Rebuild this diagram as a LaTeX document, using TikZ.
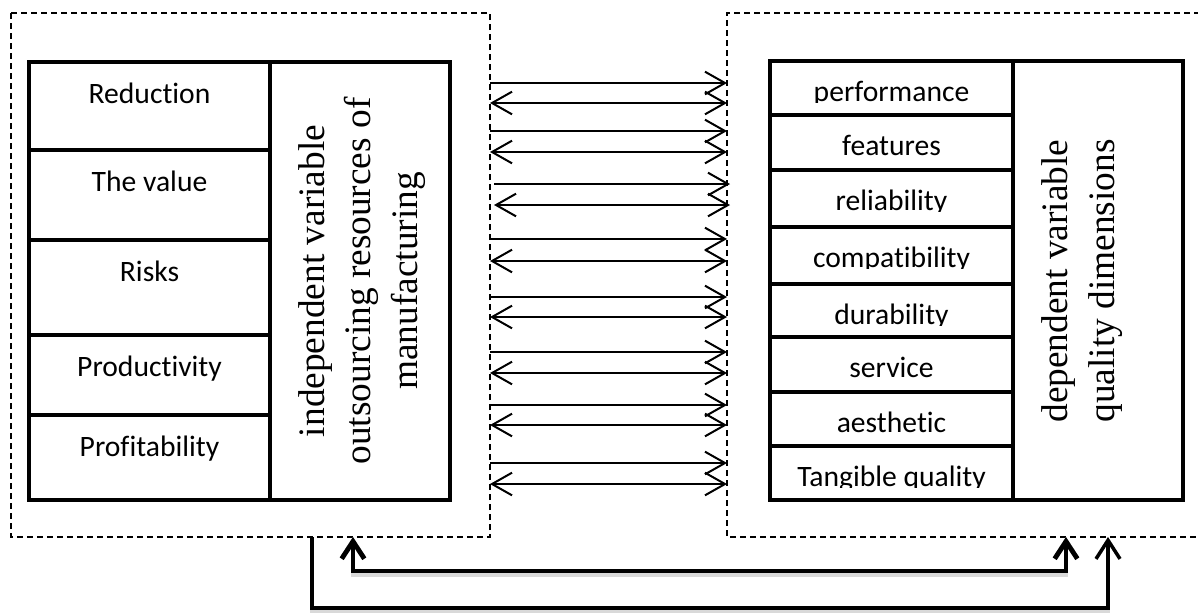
\documentclass[tikz,border=0pt]{standalone}
\usepackage{fontspec}
\setmainfont{Liberation Serif}
\newfontfamily\cellfont{Carlito}[Ligatures=NoCommon]
\usetikzlibrary{arrows.meta}

\tikzset{every picture/.style={line width=0.75pt}}
\tikzset{
  dashbox/.style={line width=1.1pt, dash pattern=on 4.5pt off 3pt},
  cellbox/.style={line width=3.6pt, line join=miter},
  celltext/.style={anchor=base, inner sep=0pt, font=\cellfont\fontsize{22.2}{26}\selectfont},
  vartext/.style={rotate=90, align=center, inner sep=0pt, font=\fontsize{28}{35}\selectfont},
  onelink/.style={line width=1.5pt, -{Straight Barb[length=15pt,width=17pt]}},
  twolink/.style={line width=1.5pt, {Straight Barb[length=15pt,width=17pt]}-{Straight Barb[length=15pt,width=17pt]}},
  backlink/.style={line width=3.6pt, line join=miter, {Straight Barb[length=13pt,width=17pt]}-{Straight Barb[length=13pt,width=17pt]}},
  fwdlink/.style={line width=2.6pt, line join=miter, -{Straight Barb[length=14pt,width=18pt]}},
  shadowlink/.style={draw=black!15, shift={(2,4)}},
}

\begin{document}
\begin{tikzpicture}[x=0.75pt,y=0.75pt,yscale=-1,xscale=1]
\useasboundingbox (0,0) rectangle (1198,612);

%Dashed frames
\draw[dashbox] (11,13) rectangle (490,537);
\draw[dashbox] (1210,13) -- (727,13) -- (727,537) -- (1210,537);
\coordinate (lbot) at (312,537);
\coordinate (lret) at (353,537);
\coordinate (rret) at (1066,537);
\coordinate (rbot) at (1108,537);

%Left block: independent variable
\foreach \t/\b/\nm/\txt in {62/150/red/Reduction, 150/240/val/The value, 240/335/risk/Risks, 335/415/prod/Productivity, 415/500/prof/Profitability} {
  \draw[cellbox] (29,\t) rectangle (270,\b);
  \node[celltext] (\nm) at (149.5,\t+41) {\txt};
}
\draw[cellbox] (270,62) rectangle (450,500);
\node[vartext] (indep) at (362,281) {independent variable\\outsourcing resources of\\manufacturing};

%Right block: dependent variable
\foreach \t/\b/\nm/\txt in {61/115/perf/performance, 115/170/feat/features, 170/227/rel/reliability, 227/284/comp/compatibility, 284/337/dur/durability, 337/392/serv/service, 392/446/aes/aesthetic, 446/500/tang/Tangible quality} {
  \draw[cellbox] (770,\t) rectangle (1013,\b);
  \begin{scope}
    \clip (770,\t) rectangle (1013,\t+41);
    \node[celltext] (\nm) at (891.5,\t+40) {\txt};
  \end{scope}
}
\draw[cellbox] (1013,61) rectangle (1183,500);
\node[vartext] (dep) at (1082,281) {dependent variable\\quality dimensions};

%Arrows between the frames
\foreach \ya/\yb/\xa/\xb [count=\i] in {83/103/490/727, 131/152/490/727, 184/205/494/730, 239/261/490/727, 297/317/490/727, 352/373/490/727, 405/425/490/727, 463/484/490/727} {
  \coordinate (sa\i) at (\xa,\ya);
  \coordinate (ea\i) at (\xb,\ya);
  \coordinate (sb\i) at (\xa,\yb);
  \coordinate (eb\i) at (\xb,\yb);
  \draw[onelink] (sa\i) -- (ea\i);
  \draw[twolink] (sb\i) -- (eb\i);
}

%Feedback connectors below
\draw[backlink, shadowlink] (lret) -- (lret |- 0,571) -- (rret |- 0,571) -- (rret);
\draw[fwdlink, shadowlink] (lbot) -- (lbot |- 0,608) -- (rbot |- 0,608) -- (rbot);
\draw[backlink] (lret) -- (lret |- 0,571) -- (rret |- 0,571) -- (rret);
\draw[fwdlink] (lbot) -- (lbot |- 0,608) -- (rbot |- 0,608) -- (rbot);

\end{tikzpicture}
\end{document}
